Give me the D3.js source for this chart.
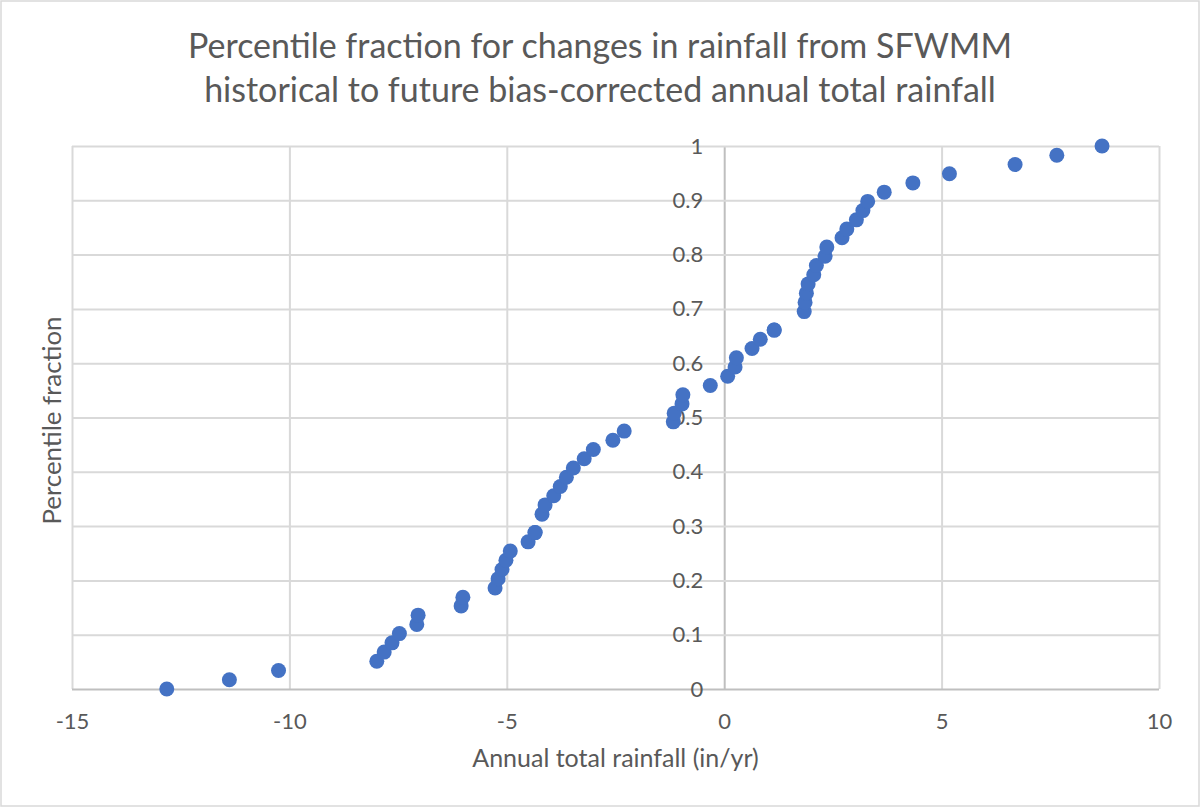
<!DOCTYPE html>
<html>
<head>
<meta charset="utf-8">
<script src="https://cdn.jsdelivr.net/npm/d3@7/dist/d3.min.js"></script>
<style>
  html, body { margin: 0; padding: 0; background: #ffffff; }
  svg { display: block; }
</style>
</head>
<body>
<script>
// Change in annual total rainfall (in/yr), sorted ascending
const rainfallChange = [
  -12.82, -11.38, -10.25, -7.99, -7.82, -7.64, -7.47, -7.07, -7.04, -6.05,
  -6.01, -5.27, -5.20, -5.11, -5.02, -4.92, -4.51, -4.35, -4.35, -4.19,
  -4.12, -3.92, -3.77, -3.63, -3.47, -3.22, -3.01, -2.56, -2.30, -1.17,
  -1.15, -0.97, -0.95, -0.32, 0.08, 0.25, 0.28, 0.64, 0.83, 1.15,
  1.15, 1.84, 1.86, 1.89, 1.93, 2.06, 2.12, 2.32, 2.36, 2.71,
  2.82, 3.04, 3.19, 3.30, 3.68, 4.34, 5.18, 6.69, 7.65, 8.69
];

// Percentile fraction (percent rank) of each change
const percentileFraction = [
  0.000, 0.017, 0.034, 0.051, 0.068, 0.085, 0.102, 0.119, 0.136, 0.153,
  0.169, 0.186, 0.203, 0.220, 0.237, 0.254, 0.271, 0.288, 0.288, 0.322,
  0.339, 0.356, 0.373, 0.390, 0.407, 0.424, 0.441, 0.458, 0.475, 0.492,
  0.508, 0.525, 0.542, 0.559, 0.576, 0.593, 0.610, 0.627, 0.644, 0.661,
  0.661, 0.695, 0.712, 0.729, 0.746, 0.763, 0.780, 0.797, 0.814, 0.831,
  0.847, 0.864, 0.881, 0.898, 0.915, 0.932, 0.949, 0.966, 0.983, 1.000
];

const xTickValues = [-15, -10, -5, 0, 5, 10];
const yTickValues = [0, 0.1, 0.2, 0.3, 0.4, 0.5, 0.6, 0.7, 0.8, 0.9, 1];

const titleLines = [
  "Percentile fraction for changes in rainfall from SFWMM",
  "historical to future bias-corrected annual total rainfall"
];
const xAxisTitle = "Annual total rainfall (in/yr)";
const yAxisTitle = "Percentile fraction";

// ---- layout ----
const W = 1201, H = 809;
const plot = { left: 72, right: 1159, top: 146, bottom: 689 };
const FONT = "Lato, 'Open Sans', 'DejaVu Sans', sans-serif";
const TEXT = "#595959";
const GRID = "#d9d9d9";
const AXIS = "#bfbfbf";
const MARK = "#4472c4";

const svg = d3.select("body").append("svg")
  .attr("width", W).attr("height", H)
  .style("font-family", FONT);

// chart frame
svg.append("rect")
  .attr("x", 1).attr("y", 1)
  .attr("width", W - 3).attr("height", H - 4)
  .attr("fill", "#ffffff")
  .attr("stroke", GRID).attr("stroke-width", 1.5);

const x = d3.scaleLinear().domain([-15, 10]).range([plot.left, plot.right]);
const y = d3.scaleLinear().domain([0, 1]).range([plot.bottom, plot.top]);

// shrink a text's font so that it spans at most the given width
function fitWidth(sel, target) {
  const node = sel.node();
  const fs = parseFloat(sel.attr("font-size"));
  const w = node.getComputedTextLength();
  if (w > target) sel.attr("font-size", (fs * target / w).toFixed(2));
}

// gridlines drawn through the axis generators
const gx = svg.append("g")
  .attr("transform", `translate(0,${plot.top})`)
  .call(d3.axisBottom(x).tickValues(xTickValues)
    .tickSize(plot.bottom - plot.top).tickFormat(""));
gx.select(".domain").remove();
gx.selectAll(".tick line")
  .attr("stroke", d => d === 0 ? AXIS : GRID)
  .attr("stroke-width", 2);

const gy = svg.append("g")
  .attr("transform", `translate(${plot.left},0)`)
  .call(d3.axisRight(y).tickValues(yTickValues)
    .tickSize(plot.right - plot.left).tickFormat(""));
gy.select(".domain").remove();
gy.selectAll(".tick line")
  .attr("stroke", d => d === 0 ? AXIS : GRID)
  .attr("stroke-width", 2);

// x tick labels below the plot (plain hyphen for negatives)
const xl = svg.append("g")
  .attr("transform", `translate(0,${plot.bottom})`)
  .call(d3.axisBottom(x).tickValues(xTickValues).tickSize(0).tickPadding(0)
    .tickFormat(d => String(d)));
xl.select(".domain").remove();
xl.selectAll(".tick text")
  .attr("y", 40).attr("dy", null)
  .attr("fill", TEXT).attr("font-size", 22)
  .style("font-family", FONT);

// y tick labels sit just left of the vertical axis at x = 0
const yl = svg.append("g")
  .attr("transform", `translate(${x(0)},0)`)
  .call(d3.axisLeft(y).tickValues(yTickValues).tickSize(0).tickPadding(21)
    .tickFormat(d => String(+d.toFixed(1))));
yl.select(".domain").remove();
yl.selectAll(".tick text")
  .attr("fill", TEXT).attr("font-size", 22)
  .style("font-family", FONT);

// points
svg.append("g")
  .selectAll("circle")
  .data(rainfallChange.map((v, i) => ({ x: v, y: percentileFraction[i] })))
  .join("circle")
  .attr("cx", d => x(d.x))
  .attr("cy", d => y(d.y))
  .attr("r", 7.5)
  .attr("fill", MARK);

// title
const titleBase = [58, 102];
titleLines.forEach((line, i) => {
  const t = svg.append("text")
    .attr("x", 600).attr("y", titleBase[i])
    .attr("text-anchor", "middle")
    .attr("font-size", 34)
    .attr("fill", TEXT)
    .text(line);
  fitWidth(t, i === 0 ? 826 : 808);
});

// axis titles
const xt = svg.append("text")
  .attr("x", (plot.left + plot.right) / 2).attr("y", 767)
  .attr("text-anchor", "middle")
  .attr("font-size", 25)
  .attr("fill", TEXT)
  .text(xAxisTitle);
fitWidth(xt, 290);

const yt = svg.append("text")
  .attr("transform", `translate(61,${(plot.top + plot.bottom) / 2 + 3}) rotate(-90)`)
  .attr("text-anchor", "middle")
  .attr("font-size", 26)
  .attr("fill", TEXT)
  .text(yAxisTitle);
fitWidth(yt, 208);
</script>
</body>
</html>
